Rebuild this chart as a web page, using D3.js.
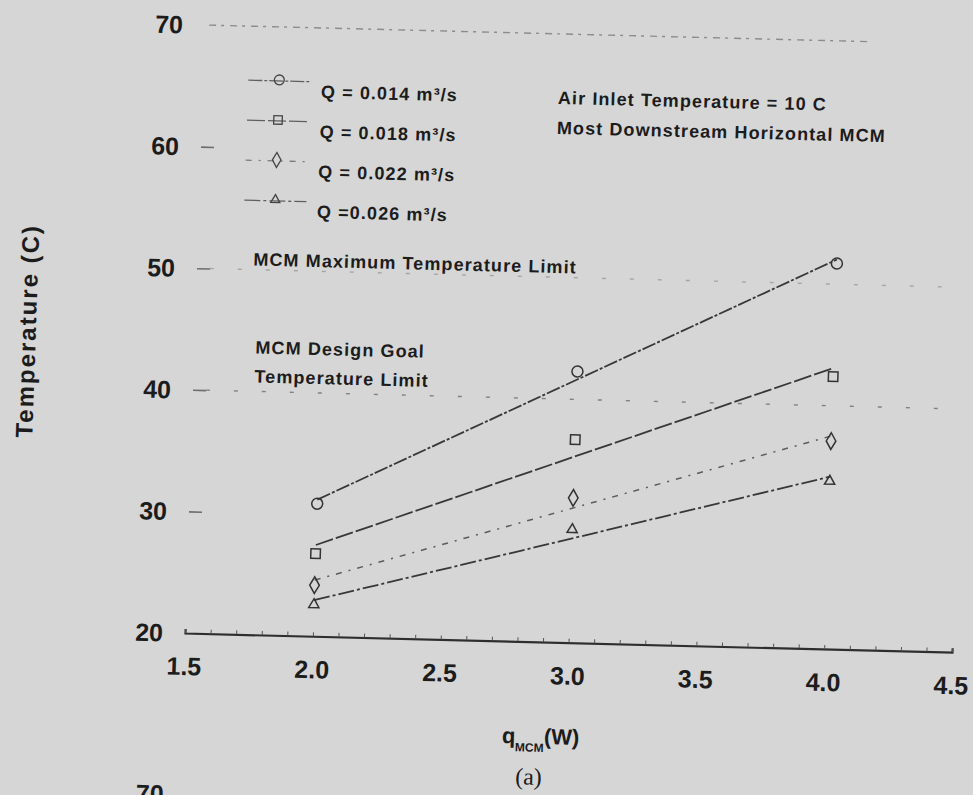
<!DOCTYPE html>
<html>
<head>
<meta charset="utf-8">
<script src="https://cdn.jsdelivr.net/npm/d3@7"></script>
<style>
  html, body { margin: 0; padding: 0; background: #d6d6d6; }
  svg { display: block; }
</style>
</head>
<body>
<script>
// Heat load on the MCM (W)
const qValues = [2.0, 3.0, 4.0];

// Measured MCM temperature (C) for each air flow rate
const temp014 = [30.9, 42.3, 51.7];
const temp018 = [26.8, 36.7, 42.4];
const temp022 = [24.2, 31.9, 37.1];
const temp026 = [22.6, 29.3, 33.8];

const flowLabels = ["Q = 0.014 m³/s", "Q = 0.018 m³/s", "Q = 0.022 m³/s", "Q =0.026 m³/s"];

const xTicks = [1.5, 2.0, 2.5, 3.0, 3.5, 4.0, 4.5];
const yTicks = [20, 30, 40, 50, 60, 70];

// Temperature limits (C)
const maxTempLimit = 50;
const designGoalLimit = 40;

const W = 973, H = 795;
const textColor = "#1c1c1c";
const sans = "'Liberation Sans', Arial, Helvetica, sans-serif";

const svg = d3.select("body").append("svg")
  .attr("width", W).attr("height", H);

svg.append("rect").attr("width", W).attr("height", H).attr("fill", "#d6d6d6");

// slightly sheared frame, as on the printed page
const g = svg.append("g")
  .attr("transform", "matrix(1,0.025,-0.033,1,20.9,-4.6)");

const x = d3.scaleLinear().domain([1.5, 4.5]).range([185, 952]);
const y = d3.scaleLinear().domain([20, 70]).range([633, 25]);

// top frame line (faint, broken)
g.append("line")
  .attr("x1", x(1.5) + 4).attr("x2", x(4.1))
  .attr("y1", y(70)).attr("y2", y(70))
  .attr("stroke", "#8c8c8c").attr("stroke-width", 1.4)
  .attr("stroke-dasharray", "7,5,3,6");

// limit lines
[{ v: maxTempLimit, o: 0.45 }, { v: designGoalLimit, o: 0.8 }].forEach(l => {
  g.append("line")
    .attr("x1", x(1.55)).attr("x2", x(4.5))
    .attr("y1", y(l.v)).attr("y2", y(l.v))
    .attr("stroke", "#6e6e6e").attr("stroke-width", 1.4)
    .attr("stroke-dasharray", "4,24").attr("opacity", l.o);
});

// x axis
const xAxis = d3.axisBottom(x)
  .tickValues(d3.range(15, 46).map(d => d / 10))
  .tickSize(-4).tickFormat("");
const xa = g.append("g").attr("transform", `translate(0,${y(20)})`).call(xAxis);
xa.select(".domain").attr("stroke", "#2e2e2e").attr("stroke-width", 2.2);
xa.selectAll(".tick line").attr("stroke", "#555").attr("stroke-width", 1);

g.selectAll(".xlab").data(xTicks).join("text")
  .attr("x", d => x(d)).attr("y", y(20) + 42)
  .attr("text-anchor", "middle")
  .attr("font-family", sans).attr("font-weight", "bold").attr("font-size", 25)
  .attr("fill", textColor)
  .text(d => d.toFixed(1));

// y axis (inward ticks only)
const yAxis = d3.axisRight(y).tickValues(yTicks.filter(v => v > 20 && v < 70))
  .tickSize(13).tickFormat("");
const ya = g.append("g").attr("transform", `translate(${x(1.5)},0)`).call(yAxis);
ya.select(".domain").remove();
ya.selectAll(".tick line").attr("stroke", "#6e6e6e").attr("stroke-width", 1.6);

g.selectAll(".ylab").data(yTicks).join("text")
  .attr("x", x(1.5) - 22).attr("y", d => y(d)).attr("dy", "0.36em")
  .attr("text-anchor", "end")
  .attr("font-family", sans).attr("font-weight", "bold").attr("font-size", 25)
  .attr("fill", textColor)
  .text(d => d);

// series
const series = [
  { label: flowLabels[0], temps: temp014, symbol: d3.symbolCircle, size: 95, dash: "14,2,3,2", color: "#383838", width: 1.8 },
  { label: flowLabels[1], temps: temp018, symbol: d3.symbolSquare, size: 90, dash: "18,3", color: "#383838", width: 1.8 },
  { label: flowLabels[2], temps: temp022, symbol: d3.symbolDiamond, size: 80, dash: "6,7,2,7", color: "#5c5c5c", width: 1.5 },
  { label: flowLabels[3], temps: temp026, symbol: d3.symbolTriangle, size: 45, dash: "16,3,3,3", color: "#383838", width: 1.8 }
];

// least-squares straight line through each series
function linearFit(xs, ys) {
  const mx = d3.mean(xs), my = d3.mean(ys);
  const sxy = d3.sum(xs, (v, i) => (v - mx) * (ys[i] - my));
  const sxx = d3.sum(xs, v => (v - mx) * (v - mx));
  const k = sxy / sxx;
  return v => my + k * (v - mx);
}

const line = d3.line().x(d => x(d[0])).y(d => y(d[1]));
const xExtent = d3.extent(qValues);

series.forEach(s => {
  const f = linearFit(qValues, s.temps);
  g.append("path")
    .datum(xExtent.map(v => [v, f(v)]))
    .attr("d", line)
    .attr("fill", "none")
    .attr("stroke", s.color).attr("stroke-width", s.width)
    .attr("stroke-dasharray", s.dash);
  g.selectAll(null).data(qValues.map((v, i) => [v, s.temps[i]])).join("path")
    .attr("transform", d => `translate(${x(d[0])},${y(d[1])})`)
    .attr("d", d3.symbol(s.symbol, s.size))
    .attr("fill", "none").attr("stroke", "#333").attr("stroke-width", 1.5);
});

// legend
const legend = g.append("g");
series.forEach((s, i) => {
  const by = 95 + i * 40;
  legend.append("line")
    .attr("x1", 230).attr("x2", 292).attr("y1", by - 16).attr("y2", by - 16)
    .attr("stroke", s.color).attr("stroke-width", 1.3)
    .attr("stroke-dasharray", s.dash).attr("opacity", 0.75);
  legend.append("path")
    .attr("transform", `translate(261,${by - 17})`)
    .attr("d", d3.symbol(s.symbol, s.size * 0.8))
    .attr("fill", "none").attr("stroke", "#444").attr("stroke-width", 1.3);
  legend.append("text")
    .attr("x", 303).attr("y", by)
    .attr("font-family", sans).attr("font-weight", "bold").attr("font-size", 18)
    .attr("letter-spacing", 1.1).attr("fill", textColor)
    .text(s.label);
});

// annotations
const notes = [
  { x: 540, y: 95, t: "Air Inlet Temperature = 10 C" },
  { x: 540, y: 125, t: "Most Downstream Horizontal MCM" },
  { x: 241, y: 264, t: "MCM Maximum Temperature Limit" },
  { x: 246, y: 352, t: "MCM Design Goal" },
  { x: 246, y: 381, t: "Temperature Limit" }
];
g.selectAll(".note").data(notes).join("text")
  .attr("x", d => d.x).attr("y", d => d.y)
  .attr("font-family", sans).attr("font-weight", "bold").attr("font-size", 18)
  .attr("letter-spacing", 1.1).attr("fill", textColor)
  .text(d => d.t);

// axis titles
g.append("text")
  .attr("transform", "translate(26,335) rotate(-90)")
  .attr("text-anchor", "middle")
  .attr("font-family", sans).attr("font-weight", "bold").attr("font-size", 24)
  .attr("letter-spacing", 2).attr("fill", textColor)
  .text("Temperature (C)");

const xt = g.append("text")
  .attr("x", 505).attr("y", 735)
  .attr("font-family", sans).attr("font-weight", "bold").attr("fill", textColor);
xt.append("tspan").attr("font-size", 22).text("q");
xt.append("tspan").attr("font-size", 12).attr("dy", 8).text("MCM");
xt.append("tspan").attr("font-size", 22).attr("dy", -8).text("(W)");

g.append("text")
  .attr("x", 533).attr("y", 776).attr("text-anchor", "middle")
  .attr("font-family", "'Liberation Serif', 'Times New Roman', serif")
  .attr("font-size", 24).attr("fill", textColor)
  .text("(a)");

// top of the next panel's first tick label
g.append("text")
  .attr("x", 169).attr("y", 803).attr("text-anchor", "end")
  .attr("font-family", sans).attr("font-weight", "bold").attr("font-size", 25)
  .attr("fill", textColor)
  .text("70");
</script>
</body>
</html>
